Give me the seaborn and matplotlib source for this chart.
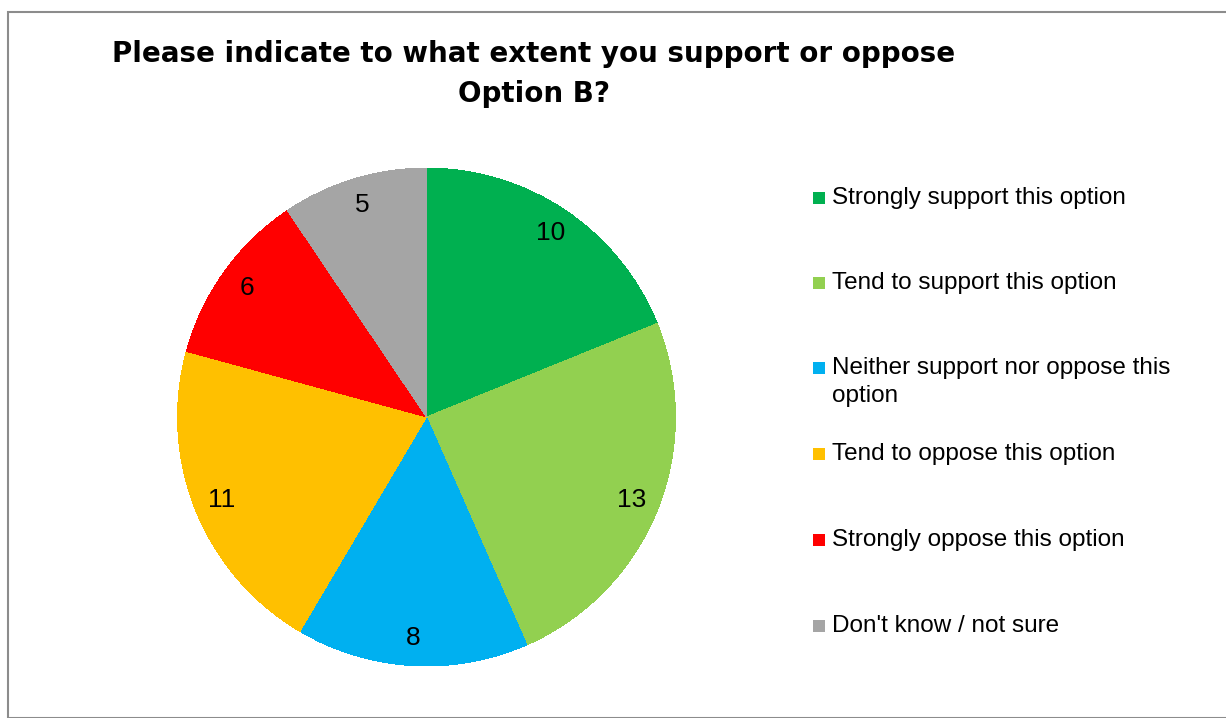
import matplotlib
matplotlib.use("Agg")
import matplotlib.pyplot as plt
from matplotlib.patches import Rectangle
import seaborn as sns

categories = [
    "Strongly support this option",
    "Tend to support this option",
    "Neither support nor oppose this\noption",
    "Tend to oppose this option",
    "Strongly oppose this option",
    "Don't know / not sure",
]
counts = [10, 13, 8, 11, 6, 5]
colors = ["#00B050", "#92D050", "#00B0F0", "#FFC000", "#FF0000", "#A5A5A5"]
title = "Please indicate to what extent you support or oppose\nOption B?"

sns.set_theme(style="white")
plt.rcParams["font.family"] = ["Liberation Sans", "DejaVu Sans"]
plt.rcParams["text.color"] = "black"

W, H = 1226, 718
fig = plt.figure(figsize=(W / 100, H / 100), dpi=100)
fig.patch.set_facecolor("white")

# chart-area frame
fig.add_artist(Rectangle((8 / W, 0), 1.5, 1 - 12 / H, transform=fig.transFigure,
                         fill=False, edgecolor="#8C8C8C", linewidth=1.5))

cx, cy, r = 426.5, 417, 249
ax = fig.add_axes([(cx - r) / W, (H - cy - r) / H, 2 * r / W, 2 * r / H])
wedges, texts = ax.pie(
    counts,
    colors=colors,
    startangle=90,
    counterclock=False,
    labels=[str(c) for c in counts],
    labeldistance=0.89,
    textprops=dict(fontsize=19, color="black"),
    wedgeprops=dict(linewidth=0, antialiased=False),
)
for t in texts:
    t.set_horizontalalignment("center")
    t.set_verticalalignment("center")
ax.set_xlim(-1, 1)
ax.set_ylim(-1, 1)
ax.set_aspect("equal")
ax.axis("off")

fig.text(534 / W, 1 - 74 / H, title, ha="center", va="center",
         fontsize=20, fontweight="bold", linespacing=1.55,
         family=["DejaVu Sans"], color="black")

# legend
ys = [198, 283, 368, 454, 540, 626]
for lab, col, y in zip(categories, colors, ys):
    fig.add_artist(Rectangle((813 / W, 1 - (y + 6) / H), 12 / W, 12 / H,
                             transform=fig.transFigure, facecolor=col, edgecolor="none"))
    fig.text(832 / W, 1 - (y - 11) / H, lab, ha="left", va="top",
             fontsize=17.5, linespacing=1.35, color="black")

fig.savefig("out.png", dpi=100)
